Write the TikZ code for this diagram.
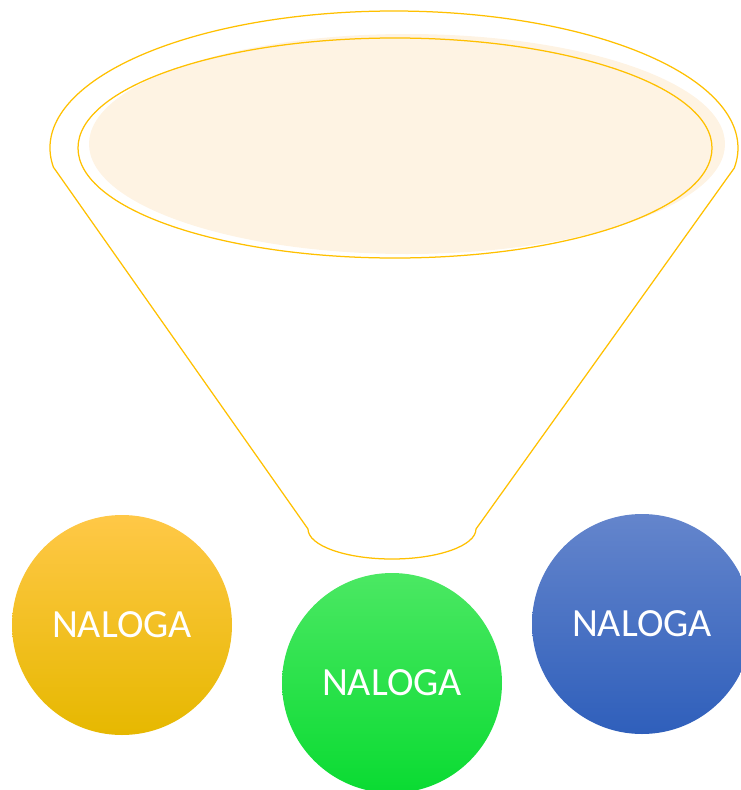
\documentclass[tikz,border=0pt]{standalone}
\usepackage{fontspec}
\setmainfont{Carlito}
\definecolor{funnelline}{HTML}{FFC000}
\definecolor{funnelfill}{HTML}{FEF3E3}
\definecolor{ytop}{HTML}{FFC847}
\definecolor{ybot}{HTML}{E6B800}
\definecolor{gtop}{HTML}{4BE863}
\definecolor{gbot}{HTML}{0ADB32}
\definecolor{btop}{HTML}{6485CC}
\definecolor{bbot}{HTML}{2F5FBB}
\tikzset{
  funnelstroke/.style={draw=funnelline, line width=1.25pt},
  taskball/.style={circle, minimum size=220pt, inner sep=0pt, text=white,
    font=\fontsize{40}{44}\selectfont},
}
\begin{document}
\begin{tikzpicture}[x=1pt,y=-1pt]
\useasboundingbox (0,0) rectangle (741,790);
\clip (0,0) rectangle (741,790);
% funnel body
\coordinate (tl) at (54,168);
\coordinate (br) at (476,529);
\draw[funnelstroke, line join=round]
  (394,148) ++(171.6:344 and 137) arc[start angle=171.6, end angle=368.4, x radius=344, y radius=137]
  -- (br) arc[start angle=0, end angle=180, x radius=84, y radius=30]
  -- (tl);
% soft fill of the rim
\fill[funnelfill] (407,144) ellipse[x radius=318, y radius=110];
% inner rim
\draw[funnelstroke] (395,148) ellipse[x radius=317, y radius=110];
% task circles
\node[taskball, top color=ytop, bottom color=ybot] (t1) at (122,625) {NALOGA};
\node[taskball, top color=gtop, bottom color=gbot] (t2) at (392,683) {NALOGA};
\node[taskball, top color=btop, bottom color=bbot] (t3) at (642,624) {NALOGA};
\end{tikzpicture}
\end{document}
